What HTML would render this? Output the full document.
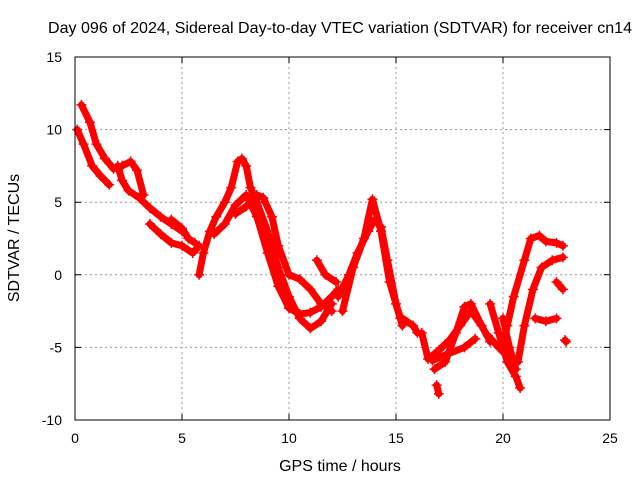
<!DOCTYPE html>
<html><head><meta charset="utf-8"><style>
body{margin:0;background:#fff}
svg{display:block;font-family:"Liberation Sans",sans-serif}
</style></head><body>
<svg id="chart" width="640" height="480" viewBox="0 0 640 480">
<rect width="640" height="480" fill="#fff"/>
<text x="340" y="33" text-anchor="middle" font-size="16" textLength="584" lengthAdjust="spacingAndGlyphs">Day 096 of 2024, Sidereal Day-to-day VTEC variation (SDTVAR) for receiver cn14</text>
<g id="grid"></g>
<g id="ticks"></g>
<g id="series"></g>
<rect x="75" y="57" width="535" height="363" fill="none" stroke="#000" stroke-width="1"/>
<text x="340" y="471" text-anchor="middle" font-size="16">GPS time / hours</text>
<text transform="translate(19,238) rotate(-90)" text-anchor="middle" font-size="16">SDTVAR / TECUs</text>
</svg>
<script>
const xTicks=[0,5,10,15,20,25];
const yTicks=[-10,-5,0,5,10,15];
const tracks=[
[[0.1,10],[0.4,9],[0.8,7.5],[1.2,6.8],[1.6,6.2]],
[[0.3,11.7],[0.7,10.5],[1.0,9],[1.4,8],[1.8,7.3],[2.2,7.5],[2.6,7.8],[2.9,7.2],[3.2,5.5]],
[[2.0,7.5],[2.2,6.5],[2.5,5.8],[3,5.3],[3.5,4.6],[4,4],[4.5,3.5],[5,3]],
[[3.5,3.5],[4,2.8],[4.5,2.2],[5,2],[5.5,1.5],[5.8,2]],
[[4.5,3.8],[5,3.2],[5.3,2.5],[5.6,2.2]],
[[5.8,0],[6.0,1.5],[6.3,3],[6.6,4],[7,5],[7.3,6],[7.6,7.8],[7.8,8],[8,7.5],[8.2,6],[8.5,5],[9,3],[9.5,0.5],[10,-1.5],[10.5,-3],[11,-3.7],[11.5,-3.2],[12,-2]],
[[6.5,2.8],[7,3.5],[7.5,4.8],[8,5.5],[8.5,4],[9,1.5],[9.5,-0.8],[10,-2.3],[10.5,-2.7],[11,-2.6],[11.5,-2.2],[12,-1.5],[12.3,-1]],
[[7.5,4.2],[8,4.7],[8.5,5.5],[8.8,5.3],[9.2,4],[9.5,2],[10,0],[10.5,-0.3],[11,-1],[11.5,-2],[12,-2.5]],
[[11.3,1],[11.7,0],[12.2,-0.5]],
[[12.3,-1.5],[12.8,0],[13.2,1.5],[13.7,3],[14,3.8],[14.3,3.3],[14.6,1],[15,-2],[15.3,-3.5]],
[[12.5,-2.5],[13,0.5],[13.5,2.5],[13.9,5.2],[14.3,3],[14.7,-0.5],[15.2,-3]],
[[15.3,-3],[15.8,-3.5],[16,-4]],
[[16.2,-4],[16.5,-5.8],[17,-5.2],[17.5,-4.5],[18,-3.5],[18.5,-2.5],[19,-3.5]],
[[16.8,-6.5],[17.3,-6],[17.8,-4],[18.2,-2.2],[18.5,-2],[19,-3.5],[19.4,-4.6]],
[[16.7,-5.9],[17.5,-5.4],[18.2,-5],[18.7,-4.4]],
[[16.9,-7.6],[17,-8.2]],
[[19.4,-2],[19.8,-4],[20.2,-6],[20.6,-7],[20.8,-7.8]],
[[19.3,-4.2],[19.8,-5],[20.2,-5.6]],
[[20,-3],[20.3,-5],[20.6,-6.5]],
[[20,-5],[20.2,-3.5],[20.5,-1.5],[21,1],[21.3,2.5],[21.7,2.7],[22,2.3],[22.5,2.2],[22.8,2]],
[[20.7,-6],[21,-3.5],[21.4,-1],[21.8,0.5],[22.3,1],[22.8,1.2]],
[[21.5,-3],[22,-3.2],[22.5,-3]],
[[22.5,-0.5],[22.8,-1]],
[[22.9,-4.5],[22.95,-4.6]]
];
const NS="http://www.w3.org/2000/svg";
const X=v=>75+v*535/25;
const Y=v=>420-(v+10)*363/25;
function mk(t,a){const e=document.createElementNS(NS,t);for(const k in a)e.setAttribute(k,a[k]);return e;}
const grid=document.getElementById('grid'),ticks=document.getElementById('ticks'),ser=document.getElementById('series');
xTicks.forEach(t=>{
 if(t>0&&t<25){const g=mk('line',{x1:X(t),x2:X(t),y1:57,y2:420,stroke:'#999','stroke-dasharray':'2,3'});
 
 grid.appendChild(g);}
 const tk=mk('path',{d:`M${X(t)},420v-6M${X(t)},57v6`,stroke:'#000'});
 
 ticks.appendChild(tk);
 const l=mk('text',{x:X(t),y:443,'text-anchor':'middle','font-size':14});l.textContent=t;
 
 ticks.appendChild(l);
});
yTicks.forEach(t=>{
 if(t>-10&&t<15){const g=mk('line',{x1:75,x2:610,y1:Y(t),y2:Y(t),stroke:'#999','stroke-dasharray':'2,3'});
 
 grid.appendChild(g);}
 const tk=mk('path',{d:`M75,${Y(t)}h6M610,${Y(t)}h-6`,stroke:'#000'});
 
 ticks.appendChild(tk);
 const l=mk('text',{x:62,y:Y(t)+5,'text-anchor':'end','font-size':14});l.textContent=t;
 
 ticks.appendChild(l);
});
tracks.forEach(tr=>{
 const p=mk('polyline',{points:tr.map(d=>X(d[0])+','+Y(d[1])).join(' '),fill:'none',stroke:'#f00','stroke-width':7,'stroke-linejoin':'round','stroke-linecap':'round'});
 
 ser.appendChild(p);
 tr.forEach(d=>{
  const m=mk('path',{d:`M${X(d[0])-5},${Y(d[1])}h10M${X(d[0])},${Y(d[1])-5}v10`,stroke:'#f00','stroke-width':1.5});
  
  ser.appendChild(m);
 });
});
</script>
</body></html>
